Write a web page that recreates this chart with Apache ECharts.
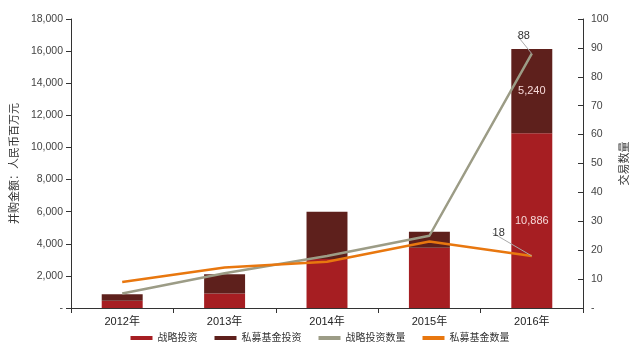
<!DOCTYPE html>
<html><head><meta charset="utf-8">
<script src="https://cdn.jsdelivr.net/npm/echarts@6/dist/echarts.min.js"></script>
<style>html,body{margin:0;padding:0;background:#fff}#c{width:640px;height:358px}</style>
</head><body><div id="c"></div>
<script>
const categories = ['2012年','2013年','2014年','2015年','2016年'];
const strategicAmount = [450, 900, 3050, 3750, 10886];
const privateAmount = [400, 1200, 2950, 1000, 5240];
const strategicCount = [5, 12, 18, 25, 88];
const privateCount = [9, 14, 16, 23, 18];
const leftMax = 18000, leftInterval = 2000;
const rightMax = 100, rightInterval = 10;

const font = 'Liberation Sans, Arial, "Noto Sans CJK SC", sans-serif';
const chart = echarts.init(document.getElementById('c'));
const lastIdx = categories.length - 1;
function fmtNum(v){ return v === 0 ? '-' : v.toLocaleString('en-US'); }

chart.setOption({
  animation: false,
  backgroundColor: '#fff',
  textStyle: { fontFamily: font },
  grid: { left: 71, right: 57, top: 19, bottom: 50 },
  legend: {
    bottom: 10, left: 'center', itemWidth: 22, itemHeight: 4, itemGap: 17,
    textStyle: { fontSize: 10, color: '#333', fontFamily: font },
    data: [
      { name: '战略投资', icon: 'rect' },
      { name: '私募基金投资', icon: 'rect' },
      { name: '战略投资数量', icon: 'rect' },
      { name: '私募基金数量', icon: 'rect' }
    ]
  },
  xAxis: {
    type: 'category', data: categories,
    axisLine: { lineStyle: { color: '#333' } },
    axisTick: { show: true, lineStyle: { color: '#333' } },
    axisLabel: { color: '#222', fontSize: 11, margin: 8 }
  },
  yAxis: [
    {
      type: 'value', min: 0, max: leftMax, interval: leftInterval,
      name: '并购金额：人民币百万元', nameLocation: 'middle', nameGap: 47, nameRotate: 90,
      nameTextStyle: { color: '#333', fontSize: 11 },
      axisLine: { show: true, lineStyle: { color: '#333' } },
      axisTick: { show: true, lineStyle: { color: '#333' } },
      splitLine: { show: false },
      axisLabel: { color: '#444', fontSize: 10.5, formatter: fmtNum }
    },
    {
      type: 'value', min: 0, max: rightMax, interval: rightInterval,
      name: '交易数量', nameLocation: 'middle', nameGap: 36, nameRotate: 90,
      nameTextStyle: { color: '#333', fontSize: 11 },
      axisLine: { show: true, lineStyle: { color: '#333' } },
      axisTick: { show: true, inside: true, lineStyle: { color: '#333' } },
      splitLine: { show: false },
      axisLabel: { color: '#444', fontSize: 10.5, formatter: fmtNum }
    }
  ],
  series: [
    {
      name: '战略投资', type: 'bar', stack: 'amt', barWidth: '40%',
      itemStyle: { color: '#A61E22' },
      data: strategicAmount.map((v, i) => i === lastIdx ? {
        value: v, label: { show: true, position: 'inside', color: '#F6D8D8', fontSize: 11,
          formatter: p => p.value.toLocaleString('en-US') } } : v)
    },
    {
      name: '私募基金投资', type: 'bar', stack: 'amt', barWidth: '40%',
      itemStyle: { color: '#5E201C' },
      data: privateAmount.map((v, i) => i === lastIdx ? {
        value: v, label: { show: true, position: 'inside', color: '#F6D8D8', fontSize: 11,
          formatter: p => p.value.toLocaleString('en-US') } } : v)
    },
    {
      name: '战略投资数量', type: 'line', yAxisIndex: 1, symbol: 'circle', symbolSize: 0,
      lineStyle: { color: '#9C9C86', width: 2.5 }, itemStyle: { color: '#9C9C86' },
      data: strategicCount.map((v, i) => i === lastIdx ? {
        value: v, label: { show: true, position: 'top', color: '#333', fontSize: 11, formatter: '{c}' } } : v),
      labelLine: { show: true, lineStyle: { color: '#aaa', width: 1 } },
      labelLayout: p => p.dataIndex === lastIdx ? { dx: -8, dy: -7 } : {}
    },
    {
      name: '私募基金数量', type: 'line', yAxisIndex: 1, symbol: 'circle', symbolSize: 0,
      lineStyle: { color: '#E8770F', width: 2.5 }, itemStyle: { color: '#E8770F' },
      data: privateCount.map((v, i) => i === lastIdx ? {
        value: v, label: { show: true, position: 'left', color: '#333', fontSize: 11, formatter: '{c}' } } : v),
      labelLine: { show: true, lineStyle: { color: '#aaa', width: 1 } },
      labelLayout: p => p.dataIndex === lastIdx ? { dx: -22, dy: -23 } : {}
    }
  ]
});
</script></body></html>
